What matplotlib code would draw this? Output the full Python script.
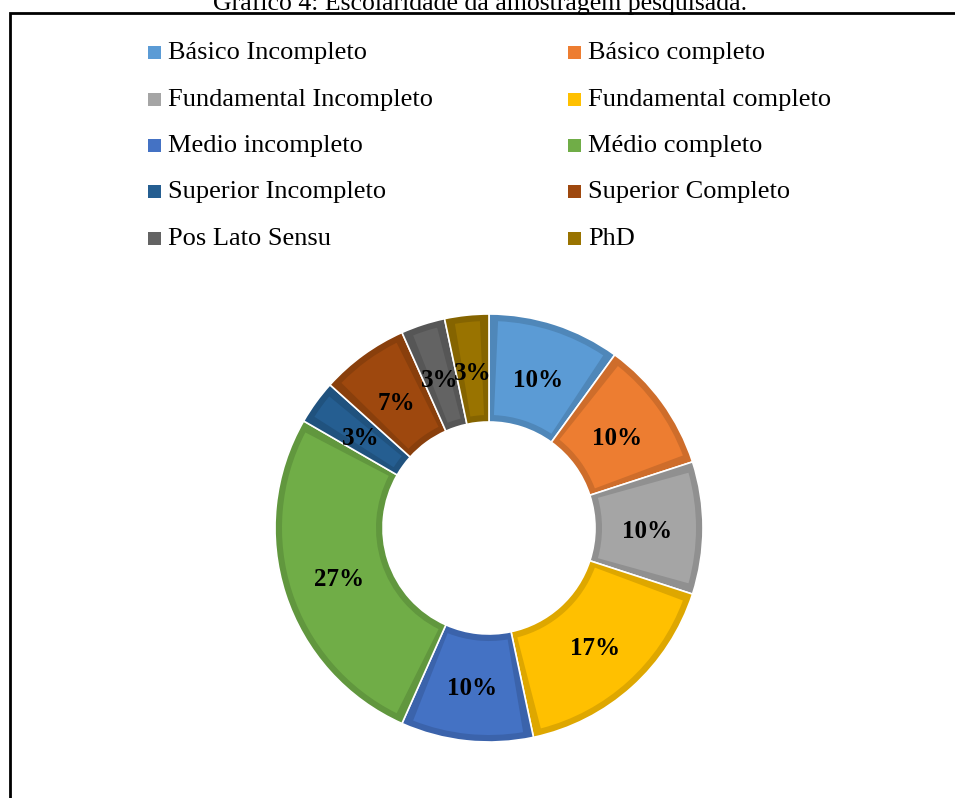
import numpy as np
import matplotlib
matplotlib.use("Agg")
import matplotlib.pyplot as plt
from matplotlib.patches import Wedge, Rectangle
from matplotlib.colors import to_rgb

# Gráfico 4 - escolaridade (contagens de respondentes, n = 30)
labels = ["Básico Incompleto", "Básico completo",
          "Fundamental Incompleto", "Fundamental completo",
          "Medio incompleto", "Médio completo",
          "Superior Incompleto", "Superior Completo",
          "Pos Lato Sensu", "PhD"]
counts = [3, 3, 3, 5, 3, 8, 1, 2, 1, 1]
colors = ["#5B9BD5", "#ED7D31", "#A5A5A5", "#FFC000", "#4472C4",
          "#70AD47", "#255E91", "#9E480E", "#636363", "#997300"]
title = "Gráfico 4: Escolaridade da amostragem pesquisada."

W, H = 955, 798
plt.rcParams["font.family"] = ["Liberation Serif", "DejaVu Serif"]

fig = plt.figure(figsize=(W / 100, H / 100), dpi=100)
ax = fig.add_axes([0, 0, 1, 1])

def dark(c, f=0.87):
    return tuple(v * f for v in to_rgb(c))

cx, cy = 489, H - 528
R, ring = 214, 108
wedges, _ = ax.pie(counts, colors=[dark(c) for c in colors], startangle=90,
                   counterclock=False, radius=R, center=(cx, cy),
                   wedgeprops=dict(width=ring, edgecolor="white", linewidth=1.2),
                   frame=True)
ax.set_xlim(0, W)
ax.set_ylim(0, H)
ax.set_aspect("equal")
ax.axis("off")

# lighter inner fill (Excel-like bevel)
inset = 7
rmid = R - ring / 2
for w, c in zip(wedges, colors):
    d = np.degrees(inset / rmid)
    ax.add_patch(Wedge((cx, cy), R - inset, w.theta1 + d, w.theta2 - d,
                       width=ring - 2 * inset, facecolor=c, edgecolor="none"))

# percent labels
total = sum(counts)
for w, n in zip(wedges, counts):
    ang = np.radians((w.theta1 + w.theta2) / 2)
    rl = 158
    ax.text(cx + rl * np.cos(ang), cy + rl * np.sin(ang) - 3,
            f"{round(100 * n / total)}%", ha="center", va="center",
            fontsize=18, fontweight="bold", color="black")

# legend (two columns)
col_x = [148, 568]
row_y = [53, 100, 146, 192, 239]
for i, (lab, c) in enumerate(zip(labels, colors)):
    x = col_x[i % 2]
    y = H - row_y[i // 2]
    ax.add_patch(Rectangle((x, y - 6), 13, 13, facecolor=c, edgecolor="none"))
    ax.text(x + 20, y, lab, ha="left", va="center", fontsize=19, color="black")

# frame and title
ax.add_patch(Rectangle((10, -20), W + 20, H - 13 + 20, fill=False,
                       edgecolor="black", linewidth=2))
ax.text(480, H - 10, title, ha="center", va="baseline", fontsize=18.5,
        color="black")

fig.savefig("out.png", dpi=100)
